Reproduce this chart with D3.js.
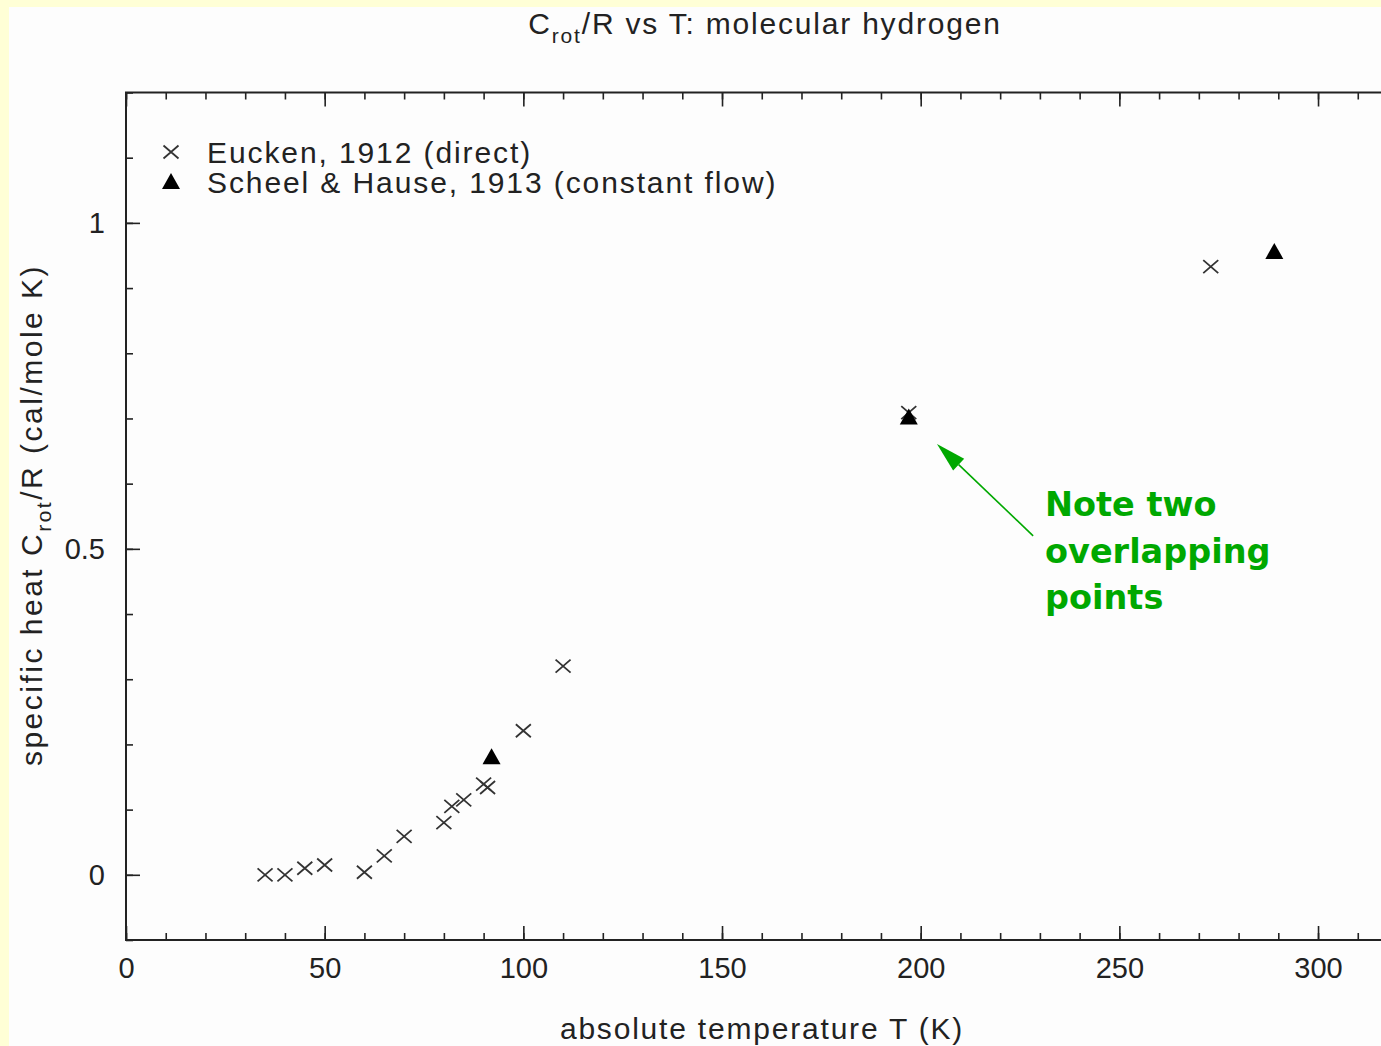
<!DOCTYPE html>
<html>
<head>
<meta charset="utf-8">
<script src="https://cdn.jsdelivr.net/npm/d3@7"></script>
<style>
  body { margin: 0; background: #ffffd6; overflow: hidden; }
  text { font-family: "Liberation Sans", Arial, sans-serif; fill: #222; }
</style>
</head>
<body>
<div id="chart"></div>
<script>
// data
const euckenT = [35, 40, 45, 50, 60, 65, 70, 80, 82, 85, 90, 91, 100, 110, 197, 273]
const euckenC = [0.0, 0.0, 0.01, 0.015, 0.004, 0.029, 0.059, 0.08, 0.105, 0.115, 0.139, 0.134, 0.221, 0.32, 0.709, 0.933]
const scheelT = [92, 197, 289]
const scheelC = [0.182, 0.703, 0.957]

const xMajorTicks = [0, 50, 100, 150, 200, 250, 300]
const yMajorTicks = [0, 0.5, 1]
const yTickLabels = ['0', '0.5', '1']

const legendLabels = ['Eucken, 1912 (direct)', 'Scheel & Hause, 1913 (constant flow)']
const noteLines = ['Note two', 'overlapping', 'points']

function draw() {
  const dimensions = {
    width: 1381,
    height: 1046,
    left: 126,
    right: 1397.5,
    top: 92.5,
    bottom: 940
  }

  const svg = d3.select('#chart')
    .append('svg')
    .attr('width', dimensions.width)
    .attr('height', dimensions.height)

  // page background: yellow strip, white picture
  svg.append('rect')
    .attr('width', dimensions.width).attr('height', dimensions.height)
    .attr('fill', '#ffffd6')
  svg.append('rect')
    .attr('x', 9).attr('y', 7)
    .attr('width', dimensions.width).attr('height', dimensions.height)
    .attr('fill', '#fdfdfd')

  // scales
  const xScale = d3.scaleLinear()
    .domain([0, 320])
    .range([dimensions.left, dimensions.right])
  const yScale = d3.scaleLinear()
    .domain([-0.1, 1.2])
    .range([dimensions.bottom, dimensions.top])

  const xMinor = d3.range(0, 321, 10)
  const yMinor = d3.range(-10, 121).filter(v => v % 10 === 0).map(v => v / 100)

  const styleAxis = g => {
    g.select('.domain').remove()
    g.selectAll('line').attr('stroke', '#222').attr('stroke-width', 1.6)
    g.selectAll('text')
      .style('font-family', '"Liberation Sans", Arial, sans-serif')
      .style('font-size', '29px')
      .attr('fill', '#222')
  }

  // bottom axis
  svg.append('g')
    .attr('transform', `translate(0,${dimensions.bottom})`)
    .call(d3.axisBottom(xScale).tickValues(xMinor).tickSize(-7).tickFormat(''))
    .call(styleAxis)
  svg.append('g')
    .attr('transform', `translate(0,${dimensions.bottom})`)
    .call(d3.axisBottom(xScale).tickValues(xMajorTicks).tickSize(-14).tickPadding(17).tickFormat(d3.format('d')))
    .call(styleAxis)

  // top axis
  svg.append('g')
    .attr('transform', `translate(0,${dimensions.top})`)
    .call(d3.axisTop(xScale).tickValues(xMinor).tickSize(-7).tickFormat(''))
    .call(styleAxis)
  svg.append('g')
    .attr('transform', `translate(0,${dimensions.top})`)
    .call(d3.axisTop(xScale).tickValues(xMajorTicks).tickSize(-14).tickFormat(''))
    .call(styleAxis)

  // left axis
  svg.append('g')
    .attr('transform', `translate(${dimensions.left},0)`)
    .call(d3.axisLeft(yScale).tickValues(yMinor).tickSize(-7).tickFormat(''))
    .call(styleAxis)
  svg.append('g')
    .attr('transform', `translate(${dimensions.left},0)`)
    .call(d3.axisLeft(yScale).tickValues(yMajorTicks).tickSize(-14).tickPadding(21)
      .tickFormat((d, i) => yTickLabels[i]))
    .call(styleAxis)

  // frame
  svg.append('rect')
    .attr('x', dimensions.left).attr('y', dimensions.top)
    .attr('width', dimensions.right - dimensions.left)
    .attr('height', dimensions.bottom - dimensions.top)
    .attr('fill', 'none')
    .attr('stroke', '#222')
    .attr('stroke-width', 2)

  // marker shapes
  const crossPath = 'M-7.5,-6.5L7.5,6.5M-7.5,6.5L7.5,-6.5'
  const trianglePath = 'M0,-8L9,8L-9,8Z'

  const eucken = euckenT.map((t, i) => ({ t, c: euckenC[i] }))
  const scheel = scheelT.map((t, i) => ({ t, c: scheelC[i] }))

  const points = svg.append('g')

  points.selectAll('path.eucken')
    .data(eucken)
    .join('path')
    .attr('class', 'eucken')
    .attr('d', crossPath)
    .attr('transform', d => `translate(${xScale(d.t)},${yScale(d.c)})`)
    .attr('fill', 'none')
    .attr('stroke', '#333')
    .attr('stroke-width', 1.8)

  // triangles on top, so the 197 K pair shows as in the original
  points.selectAll('path.scheel')
    .data(scheel)
    .join('path')
    .attr('class', 'scheel')
    .attr('d', trianglePath)
    .attr('transform', d => `translate(${xScale(d.t)},${yScale(d.c)})`)
    .attr('fill', '#000')

  // legend
  const legend = svg.append('g')
  legend.append('path')
    .attr('d', crossPath)
    .attr('transform', 'translate(171,152)')
    .attr('fill', 'none').attr('stroke', '#333').attr('stroke-width', 1.8)
  legend.append('path')
    .attr('d', trianglePath)
    .attr('transform', 'translate(171,181)')
    .attr('fill', '#000')
  legend.selectAll('text')
    .data(legendLabels)
    .join('text')
    .attr('x', 207)
    .attr('y', (d, i) => 163 + i * 30)
    .style('font-size', '30px')
    .style('letter-spacing', '1.9px')
    .text(d => d)

  // title
  const title = svg.append('text')
    .attr('x', 765)
    .attr('y', 34)
    .attr('text-anchor', 'middle')
    .style('font-size', '30px')
    .style('letter-spacing', '1.8px')
  title.append('tspan').text('C')
  title.append('tspan').attr('dy', 9).style('font-size', '21px').text('rot')
  title.append('tspan').attr('dy', -9).text('/R vs T: molecular hydrogen')

  // x axis label
  svg.append('text')
    .attr('x', 762)
    .attr('y', 1039)
    .attr('text-anchor', 'middle')
    .style('font-size', '30px')
    .style('letter-spacing', '1.8px')
    .text('absolute temperature T (K)')

  // y axis label
  const yLabel = svg.append('text')
    .attr('transform', 'translate(42,515) rotate(-90)')
    .attr('text-anchor', 'middle')
    .style('font-size', '30px')
    .style('letter-spacing', '2.5px')
  yLabel.append('tspan').text('specific heat C')
  yLabel.append('tspan').attr('dy', 9).style('font-size', '21px').text('rot')
  yLabel.append('tspan').attr('dy', -9).text('/R (cal/mole K)')

  // annotation: arrow + note
  const green = '#00a800'
  const arrowFrom = { t: 228.3, c: 0.52 }
  const arrowTo = { t: 204.1, c: 0.661 }
  const x1 = xScale(arrowFrom.t), y1 = yScale(arrowFrom.c)
  const x2 = xScale(arrowTo.t), y2 = yScale(arrowTo.c)
  const ang = Math.atan2(y2 - y1, x2 - x1)
  const headLen = 30, headHalf = 8
  const bx = x2 - headLen * Math.cos(ang), by = y2 - headLen * Math.sin(ang)

  svg.append('line')
    .attr('x1', x1).attr('y1', y1)
    .attr('x2', bx).attr('y2', by)
    .attr('stroke', green)
    .attr('stroke-width', 1.6)
  svg.append('path')
    .attr('d', `M${x2},${y2}L${bx + headHalf * Math.sin(ang)},${by - headHalf * Math.cos(ang)}L${bx - headHalf * Math.sin(ang)},${by + headHalf * Math.cos(ang)}Z`)
    .attr('fill', green)

  svg.append('g').selectAll('text')
    .data(noteLines)
    .join('text')
    .attr('x', xScale(231.3))
    .attr('y', (d, i) => 516 + i * 46.5)
    .style('font-family', '"DejaVu Sans", Verdana, sans-serif')
    .style('font-weight', 'bold')
    .style('font-size', '33.5px')
    .style('fill', green)
    .text(d => d)
}

draw()
</script>
</body>
</html>
